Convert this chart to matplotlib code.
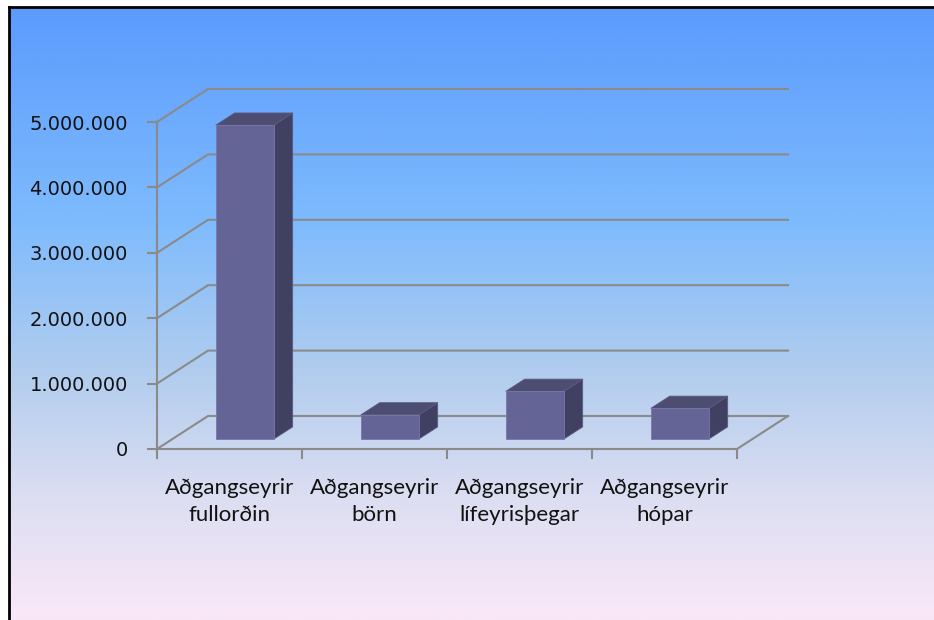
import numpy as np
import matplotlib
matplotlib.use('Agg')
import matplotlib.pyplot as plt
from matplotlib.patches import Polygon
from matplotlib.ticker import FixedLocator, FuncFormatter

# Gögn
categories = ['Aðgangseyrir\nfullorðin', 'Aðgangseyrir\nbörn',
              'Aðgangseyrir\nlífeyrisþegar', 'Aðgangseyrir\nhópar']
values = [4800000, 370000, 730000, 470000]
y_ticks = [0, 1000000, 2000000, 3000000, 4000000, 5000000]

W, H = 934, 620
fig = plt.figure(figsize=(W / 100, H / 100), dpi=100)

# Bakgrunnur með litastigli
bg = fig.add_axes([0, 0, 1, 1], zorder=0)
bg.set_xlim(0, W)
bg.set_ylim(H, 0)
bg.axis('off')
stops = [0.0, 0.35, 0.6, 0.8, 1.0]
cols = np.array([[91, 155, 253], [126, 187, 253], [178, 205, 238],
                 [220, 222, 242], [250, 232, 248]]) / 255
t = np.linspace(0, 1, 300)
grad = np.stack([np.interp(t, stops, cols[:, k]) for k in range(3)], axis=1)
bg.imshow(grad[:, None, :], extent=[9, W, H, 7], aspect='auto')
bg.plot([9, 9], [7, H], color='black', lw=2)
bg.plot([9, W], [7, 7], color='black', lw=2)

# Rúmfræði (dílar)
x0, x1 = 157, 737          # framhlið x-áss
y0_px, y5_px = 449, 122    # 0 og 5.000.000 á framhlið
dpx, dpy = 51, 33          # dýpt (x, upp)
n = len(categories)
ymax = y_ticks[-1]
DX = dpx / ((x1 - x0) / n)
DY = dpy / ((y0_px - y5_px) / ymax)

left = x0 / W
right = (x1 + dpx) / W
bottom = (H - y0_px) / H
top = (H - (y5_px - dpy)) / H
ax = fig.add_axes([left, bottom, right - left, top - bottom], zorder=1)
ax.set_xlim(0, n + DX)
ax.set_ylim(0, ymax + DY)
ax.patch.set_visible(False)

grid_c = '#8a8a8a'
lw = 1.5

def proj(x, y, d):
    return x + d * DX, y + d * DY

# Veggir og gólf
for v in y_ticks:
    xa, ya = proj(0, v, 0)
    xb, yb = proj(0, v, 1)
    xc, yc = proj(n, v, 1)
    ax.plot([xa, xb, xc], [ya, yb, yc], color=grid_c, lw=lw,
            solid_joinstyle='miter', clip_on=False)
xa, ya = proj(n, 0, 0)
xb, yb = proj(n, 0, 1)
ax.plot([xa, xb], [ya, yb], color=grid_c, lw=lw, clip_on=False)

# Súlur
d0, d1 = 0.3, 0.67
bw = 0.4
front_c, side_c, top_c = '#646497', '#404062', '#4d4d72'
for i, v in enumerate(values):
    xl = i + (1 - bw) / 2
    xr = xl + bw
    front = [proj(xl, 0, d0), proj(xr, 0, d0), proj(xr, v, d0), proj(xl, v, d0)]
    side = [proj(xr, 0, d0), proj(xr, 0, d1), proj(xr, v, d1), proj(xr, v, d0)]
    topf = [proj(xl, v, d0), proj(xr, v, d0), proj(xr, v, d1), proj(xl, v, d1)]
    ax.add_patch(Polygon(side, closed=True, facecolor=side_c, edgecolor='#5a5a80', lw=0.6, zorder=3))
    ax.add_patch(Polygon(topf, closed=True, facecolor=top_c, edgecolor='#5a5a80', lw=0.6, zorder=3))
    ax.add_patch(Polygon(front, closed=True, facecolor=front_c, edgecolor='#7878a8', lw=0.6, zorder=4))

# Ásar
for s in ['top', 'right']:
    ax.spines[s].set_visible(False)
ax.spines['left'].set_bounds(0, ymax)
ax.spines['bottom'].set_bounds(0, n)
for s in ['left', 'bottom']:
    ax.spines[s].set_color(grid_c)
    ax.spines[s].set_linewidth(lw)

ax.yaxis.set_major_locator(FixedLocator(y_ticks))
ax.yaxis.set_major_formatter(FuncFormatter(lambda v, p: f'{int(v):,}'.replace(',', '.')))
ax.tick_params(axis='y', direction='out', length=7, width=lw, color=grid_c,
               pad=14, labelsize=14, labelcolor='#111111')

ax.xaxis.set_major_locator(FixedLocator(range(n + 1)))
ax.xaxis.set_major_formatter(FuncFormatter(lambda v, p: ''))
ax.set_xticks([i + 0.5 for i in range(n)], categories, minor=True)
ax.tick_params(axis='x', which='major', direction='out', length=7, width=lw, color=grid_c)
ax.tick_params(axis='x', which='minor', length=0, pad=21)
for lab in ax.get_xticklabels(minor=True):
    lab.set_fontfamily('Lato')
    lab.set_fontsize(16)
    lab.set_linespacing(1.4)
    lab.set_color('#111111')
    lab.set_ha('center')
    lab.set_multialignment('center')

fig.savefig('out.png', dpi=100)
